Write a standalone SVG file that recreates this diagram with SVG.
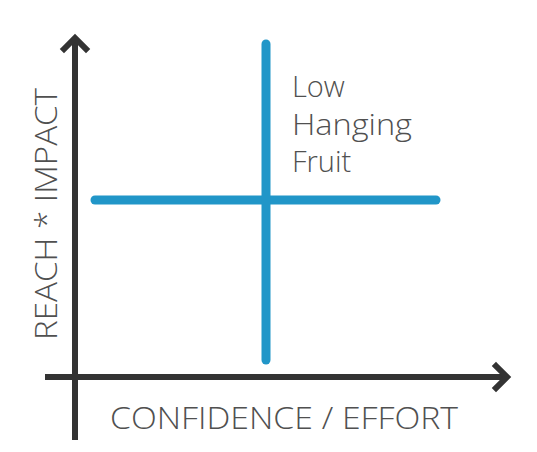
<svg xmlns="http://www.w3.org/2000/svg" width="537" height="452" viewBox="0 0 537 452">
<style>
.axis{stroke:#333;stroke-width:6;fill:none}
.head{stroke:#333;stroke-width:6;fill:none;stroke-linecap:square;stroke-linejoin:miter}
.blue{stroke:#2196c8;stroke-width:9;stroke-linecap:round;fill:none}
.lbl{font-family:"Open Sans","Noto Sans",sans-serif;fill:#505050;font-weight:300}
</style>
<rect width="537" height="452" fill="#fff"/>
<g id="connectors">
<line class="axis" x1="75" y1="440" x2="75" y2="38"/>
<polyline class="head" points="64,49 75,38 86,49"/>
<line class="axis" x1="45" y1="377" x2="507" y2="377"/>
<polyline class="head" points="496,366 507,377 496,388"/>
</g>
<g id="quadrants">
<line class="blue" x1="95" y1="200" x2="436" y2="200"/>
<line class="blue" x1="266" y1="44" x2="266" y2="360"/>
</g>
<g id="low-hanging-fruit">
<text class="lbl" font-size="29" x="292" y="97">Low</text>
<text class="lbl" font-size="29" x="292" y="135" textLength="120" lengthAdjust="spacingAndGlyphs">Hanging</text>
<text class="lbl" font-size="29" x="292" y="172">Fruit</text>
</g>
<g id="x-label">
<text class="lbl" font-size="31" x="110" y="429" textLength="348" lengthAdjust="spacingAndGlyphs">CONFIDENCE / EFFORT</text>
</g>
<g id="y-label">
<text class="lbl" font-size="31" transform="translate(57,340) rotate(-90)" textLength="252" lengthAdjust="spacingAndGlyphs">REACH * IMPACT</text>
</g>
</svg>
